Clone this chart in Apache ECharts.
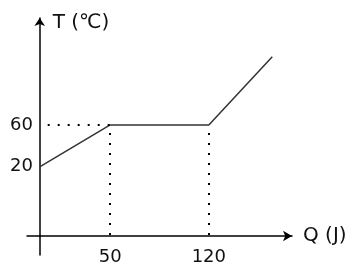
<!DOCTYPE html>
<html>
<head>
<meta charset="utf-8">
<script src="https://cdn.jsdelivr.net/npm/echarts@6/dist/echarts.min.js"></script>
<style>html,body{margin:0;padding:0;background:#fff}#c{width:361px;height:270px}</style>
</head>
<body>
<div id="c"></div>
<script>
// Data (schematic heating curve)
var heatQ = [0, 50, 120, 165];      // Q (J)
var tempT = [20, 60, 60, 125];      // T (℃)
var xTickLabels = [50, 120];
var yTickLabels = [20, 60];
var xName = 'Q (J)';
var yName = 'T (℃)';

var xMin = -9, xMax = 179;
var yMin = -46, yMax = 162;

var points = heatQ.map(function (q, i) { return [q, tempT[i]]; });
// guide lines: plateau start/end
var plateauStart = points[1], plateauEnd = points[2];
var guides = [
  [{coord: [0, plateauStart[1]]}, {coord: plateauStart}],
  [{coord: plateauStart}, {coord: [plateauStart[0], yMin]}],
  [{coord: plateauEnd}, {coord: [plateauEnd[0], yMin]}]
];

var font = 'DejaVu Sans';
var chart = echarts.init(document.getElementById('c'), null, {renderer: 'canvas'});
var gridLeft = 27, gridRightEdge = 292;
var zeroPx = gridLeft + (0 - xMin) / (xMax - xMin) * (gridRightEdge - gridLeft);

chart.setOption({
  animation: false,
  backgroundColor: '#fff',
  grid: [
    {left: gridLeft, right: 361 - gridRightEdge, top: 18, bottom: 34, containLabel: false, outerBoundsMode: 'none'},
    {left: zeroPx, top: 236, height: 19, width: 10, containLabel: false, outerBoundsMode: 'none'}
  ],
  xAxis: [{
    type: 'value', min: xMin, max: xMax,
    axisLine: {show: true, onZero: false, symbol: ['none', 'arrow'], symbolSize: [8, 9],
      lineStyle: {color: '#000', width: 1.5}},
    axisTick: {show: false},
    splitLine: {show: false},
    axisLabel: {customValues: xTickLabels, color: '#111', fontFamily: font, fontSize: 18, margin: 12},
    name: xName, nameLocation: 'end', nameGap: 11,
    nameTextStyle: {color: '#111', fontFamily: font, fontSize: 20, verticalAlign: 'middle', padding: [6, 0, 0, 0]}
  }, {
    gridIndex: 1, type: 'value', show: false
  }],
  yAxis: [{
    type: 'value', min: yMin, max: yMax,
    axisLine: {show: true, onZero: true, symbol: ['none', 'arrow'], symbolSize: [8, 8],
      lineStyle: {color: '#000', width: 1.5}},
    axisTick: {show: false},
    splitLine: {show: false},
    axisLabel: {customValues: yTickLabels, color: '#111', fontFamily: font, fontSize: 18, margin: -6, padding: [9, 0, 0, 0]},
    name: yName, nameLocation: 'end', nameGap: -5,
    nameTextStyle: {color: '#111', fontFamily: font, fontSize: 20, align: 'left', verticalAlign: 'middle', padding: [0, 0, 0, 13]}
  }, {
    gridIndex: 1, type: 'value',
    axisLine: {show: true, onZero: false, lineStyle: {color: '#000', width: 1.5}},
    axisTick: {show: false}, axisLabel: {show: false}, splitLine: {show: false}
  }],
  series: [{
    type: 'line',
    data: points,
    symbol: 'none',
    lineStyle: {color: '#333', width: 1.5},
    markLine: {
      silent: true,
      symbol: ['none', 'none'],
      label: {show: false},
      lineStyle: {color: '#000', width: 2, type: [2, 8], dashOffset: 2},
      data: guides
    }
  }]
});
</script>
</body>
</html>
